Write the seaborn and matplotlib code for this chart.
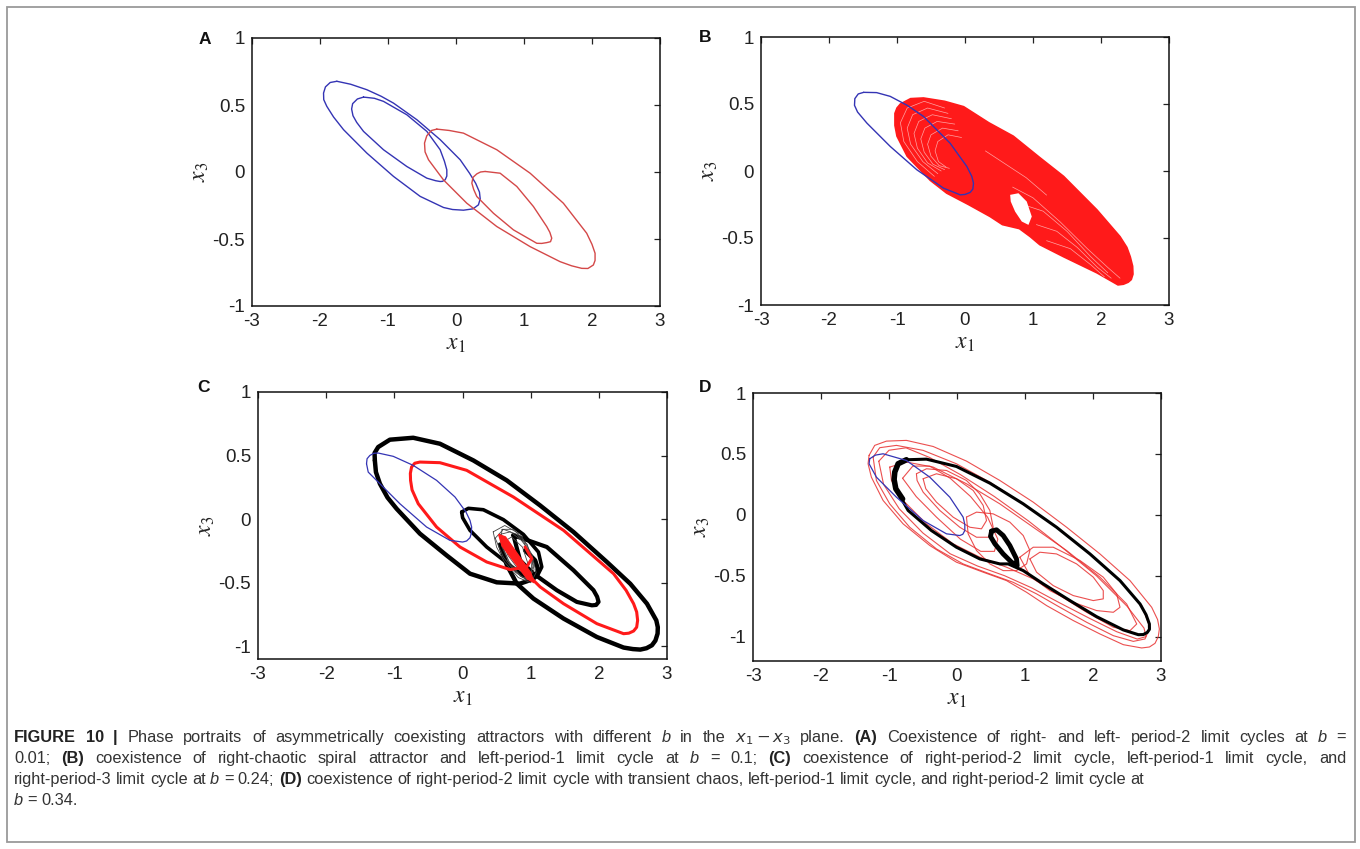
"""
Phase portraits in the x1-x3 plane, four panels plus caption.
"""

import numpy as np
import matplotlib
matplotlib.use('Agg')
import matplotlib.pyplot as plt
from matplotlib.patches import Rectangle
import seaborn as sns

W, H = 1360, 849

# ---------------- data (x1, x3) ----------------
# (A) b = 0.01
a_blue_outer_x = [-1.752, -1.55, -1.311, -1.10, -0.919, -0.575, -0.232, 0.062, 0.20, 0.29, 0.345,
                  0.356, 0.33, 0.25, 0.11, -0.05, -0.183, -0.527, -0.919, -1.311, -1.654, -1.80,
                  -1.90, -1.945, -1.948, -1.92, -1.85]
a_blue_outer_y = [0.677, 0.655, 0.614, 0.565, 0.514, 0.390, 0.241, 0.091, -0.01, -0.085, -0.15,
                  -0.20, -0.245, -0.275, -0.285, -0.28, -0.265, -0.182, -0.033, 0.141, 0.316, 0.41,
                  0.49, 0.54, 0.589, 0.635, 0.668]
a_blue_inner_x = [-1.360, -1.20, -1.066, -0.723, -0.429, -0.233, -0.17, -0.135, -0.135, -0.159,
                  -0.20, -0.233, -0.30, -0.429, -0.723, -1.066, -1.360, -1.46, -1.515, -1.535,
                  -1.52, -1.45]
a_blue_inner_y = [0.559, 0.550, 0.527, 0.427, 0.303, 0.166, 0.08, 0.016, -0.03, -0.058, -0.07,
                  -0.071, -0.065, -0.046, 0.041, 0.166, 0.303, 0.37, 0.42, 0.47, 0.51, 0.545]
a_red_outer_x = [-0.282, -0.10, 0.110, 0.600, 1.090, 1.579, 1.922, 2.00, 2.045, 2.045, 2.020, 1.94,
                 1.849, 1.70, 1.530, 1.090, 0.600, 0.159, -0.184, -0.404, -0.455, -0.463, -0.43,
                 -0.36]
a_red_outer_y = [0.320, 0.310, 0.290, 0.166, -0.009, -0.233, -0.457, -0.54, -0.606, -0.66, -0.694,
                 -0.72, -0.719, -0.70, -0.669, -0.557, -0.407, -0.233, -0.059, 0.091, 0.15, 0.216,
                 0.27, 0.31]
a_red_inner_x = [0.428, 0.649, 0.894, 1.139, 1.334, 1.38, 1.408, 1.39, 1.334, 1.26, 1.188, 0.845,
                 0.551, 0.306, 0.26, 0.233, 0.25, 0.306, 0.36]
a_red_inner_y = [0.004, -0.009, -0.108, -0.258, -0.407, -0.45, -0.494, -0.52, -0.527, -0.533,
                 -0.532, -0.432, -0.308, -0.183, -0.13, -0.083, -0.04, -0.014, 0.0]

# (B) b = 0.1
b_blue_x = [-1.49, -1.30, -1.10, -0.85, -0.61, -0.22, 0.027, 0.10, 0.125, 0.115, 0.076, 0.0,
            -0.071, -0.316, -0.708, -1.099, -1.442, -1.58, -1.625, -1.62, -1.57]
b_blue_y = [0.587, 0.585, 0.557, 0.49, 0.407, 0.208, 0.034, -0.04, -0.091, -0.135, -0.160, -0.175,
            -0.178, -0.128, 0.009, 0.183, 0.357, 0.44, 0.49, 0.54, 0.575]
b_chaos_x = [-0.95, -0.80, -0.61, -0.30, -0.02, 0.35, 0.71, 1.10, 1.45, 1.94, 2.28, 2.38, 2.43,
             2.465, 2.47, 2.445, 2.40, 2.33, 2.25, 1.94, 1.45, 1.10, 0.96, 0.80, 0.55, 0.37, 0.05,
             -0.27, -0.51, -0.85, -1.00, -1.03, -1.03, -1.00]
b_chaos_y = [0.50, 0.54, 0.545, 0.52, 0.48, 0.36, 0.26, 0.10, -0.04, -0.29, -0.49, -0.57, -0.64,
             -0.71, -0.77, -0.81, -0.83, -0.845, -0.85, -0.76, -0.64, -0.55, -0.49, -0.43, -0.40,
             -0.34, -0.25, -0.165, -0.07, 0.11, 0.26, 0.34, 0.43, 0.47]
b_hole_x = [0.664, 0.786, 0.908, 0.982, 0.933, 0.835, 0.737, 0.673]
b_hole_y = [-0.178, -0.166, -0.228, -0.340, -0.402, -0.377, -0.303, -0.228]
# light streaks inside the chaotic band
b_streaks = [
    ([-0.30, -0.60, -0.85, -0.95, -0.90, -0.70, -0.45], [0.47, 0.52, 0.47, 0.36, 0.22, 0.07, -0.04]),
    ([-0.25, -0.55, -0.77, -0.85, -0.80, -0.62, -0.40], [0.43, 0.47, 0.42, 0.32, 0.20, 0.07, -0.02]),
    ([-0.20, -0.48, -0.68, -0.75, -0.70, -0.55, -0.35], [0.39, 0.42, 0.37, 0.28, 0.17, 0.06, 0.00]),
    ([-0.15, -0.41, -0.59, -0.65, -0.60, -0.47, -0.30], [0.35, 0.37, 0.32, 0.24, 0.14, 0.05, 0.01]),
    ([-0.10, -0.33, -0.50, -0.55, -0.50, -0.38, -0.23], [0.30, 0.32, 0.27, 0.20, 0.11, 0.04, 0.02]),
    ([-0.05, -0.25, -0.40, -0.44, -0.39, -0.28], [0.25, 0.27, 0.22, 0.15, 0.07, 0.03]),
    ([0.70, 1.00, 1.40, 1.80, 2.10, 2.28], [-0.12, -0.20, -0.38, -0.58, -0.72, -0.80]),
    ([0.85, 1.15, 1.50, 1.85, 2.10], [-0.25, -0.30, -0.45, -0.64, -0.76]),
    ([1.05, 1.35, 1.65, 1.95, 2.15], [-0.40, -0.45, -0.57, -0.72, -0.80]),
    ([1.20, 1.55, 1.85, 2.05], [-0.52, -0.58, -0.70, -0.79]),
    ([0.30, 0.60, 0.90, 1.20], [0.15, 0.05, -0.05, -0.18]),
]

# (C) b = 0.24
c_blue_x = [-1.408, -1.40, -1.359, -1.30, -1.237, -1.016, -0.723, -0.380, -0.110, 0.051, 0.11,
            0.134, 0.13, 0.110, 0.06, 0.002, -0.184, -0.527, -0.918, -1.237, -1.383]
c_blue_y = [0.436, 0.475, 0.501, 0.518, 0.520, 0.494, 0.423, 0.305, 0.174, 0.056, -0.01, -0.062,
            -0.11, -0.146, -0.172, -0.180, -0.167, -0.062, 0.121, 0.292, 0.370]
c_black_outer_x = [-1.286, -1.29, -1.237, -1.065, -0.723, -0.331, 0.159, 0.649, 1.138, 1.628,
                   2.118, 2.461, 2.706, 2.843, 2.865, 2.862, 2.83, 2.779, 2.70, 2.608, 2.50, 2.363,
                   1.971, 1.482, 1.041, 0.796, 0.65, 0.55]
c_black_outer_y = [0.462, 0.52, 0.567, 0.625, 0.640, 0.593, 0.462, 0.305, 0.108, -0.101, -0.337,
                   -0.508, -0.665, -0.796, -0.85, -0.900, -0.955, -0.992, -1.015, -1.026, -1.022,
                   -1.010, -0.927, -0.782, -0.625, -0.507, -0.36, -0.20]
c_black_lower_x = [-1.286, -1.27, -1.212, -1.10, -0.967, -0.625, -0.233, 0.110, 0.502, 0.845,
                   1.040, 1.114, 1.065, 0.918]
c_black_lower_y = [0.462, 0.37, 0.279, 0.17, 0.082, -0.114, -0.285, -0.429, -0.497, -0.507,
                   -0.471, -0.403, -0.324, -0.245]
c_black_inner_x = [-0.012, 0.086, 0.306, 0.600, 0.893, 1.114, 1.163, 1.089, 0.918, 0.698, 0.355,
                   0.110, 0.002]
c_black_inner_y = [0.056, 0.085, 0.074, -0.004, -0.120, -0.259, -0.376, -0.455, -0.455, -0.363,
                   -0.219, -0.088, 0.011]
c_black_lobe_x = [0.747, 1.237, 1.628, 1.922, 1.975, 1.996, 1.96, 1.898, 1.677, 1.383, 1.041,
                  0.845]
c_black_lobe_y = [-0.127, -0.219, -0.402, -0.559, -0.61, -0.651, -0.675, -0.678, -0.651, -0.559,
                  -0.428, -0.324]
c_thin = [
    ([0.55, 0.70, 0.90, 1.02, 1.00, 0.88, 0.70, 0.58], [-0.12, -0.10, -0.18, -0.32, -0.45, -0.46, -0.36, -0.22]),
    ([0.48, 0.60, 0.80, 0.98, 1.05, 0.95, 0.78, 0.60], [-0.15, -0.08, -0.12, -0.25, -0.40, -0.48, -0.42, -0.30]),
    ([0.60, 0.72, 0.88, 0.96, 0.92, 0.80, 0.66], [-0.18, -0.14, -0.22, -0.35, -0.42, -0.38, -0.28]),
    ([0.45, 0.62, 0.85, 1.02, 1.08, 1.00, 0.82, 0.62, 0.50], [-0.10, -0.05, -0.12, -0.28, -0.42, -0.50, -0.46, -0.34, -0.22]),
    ([0.58, 0.75, 0.95, 1.04, 0.98, 0.85, 0.68, 0.56], [-0.08, -0.08, -0.20, -0.36, -0.47, -0.45, -0.33, -0.18]),
]
c_red_x = [0.918, 1.016, 0.942, 0.698, 0.355, -0.037, -0.380, -0.649, -0.74, -0.762, -0.765,
           -0.747, -0.70, -0.625, -0.331, 0.061, 0.747, 1.482, 2.216, 2.40, 2.510, 2.555, 2.569,
           2.555, 2.510, 2.44, 2.363, 1.971, 1.482, 1.139, 0.943, 0.80, 0.62]
c_red_y = [-0.219, -0.311, -0.376, -0.397, -0.337, -0.219, -0.062, 0.121, 0.23, 0.305, 0.36, 0.410,
           0.44, 0.449, 0.444, 0.384, 0.174, -0.088, -0.429, -0.56, -0.665, -0.73, -0.796, -0.85,
           -0.880, -0.897, -0.901, -0.822, -0.665, -0.533, -0.429, -0.33, -0.16]
c_wedge_x = [0.53, 0.63, 1.00, 1.05, 0.95, 0.58]
c_wedge_y = [-0.12, -0.14, -0.42, -0.50, -0.47, -0.21]

# (D) b = 0.34
d_blue_x = [-1.284, -1.20, -1.087, -0.744, -0.400, -0.106, 0.090, 0.115, 0.115, 0.085, 0.041,
            -0.155, -0.498, -0.891, -1.185, -1.293]
d_blue_y = [0.460, 0.49, 0.501, 0.446, 0.309, 0.145, -0.019, -0.08, -0.129, -0.16, -0.170, -0.156,
            -0.047, 0.145, 0.309, 0.419]
d_red_loops = [
    ([-1.293, -1.210, -1.038, -0.744, -0.351, 0.139, 0.630, 1.121, 1.612, 2.102, 2.544, 2.863,
      2.95, 2.976, 2.96, 2.912, 2.83, 2.716, 2.446, 2.102, 1.710, 1.317, 1.023, 0.728, 0.385,
      -0.008, -0.400, -0.793, -1.087, -1.259, -1.308],
     [0.488, 0.570, 0.605, 0.611, 0.561, 0.441, 0.282, 0.104, -0.102, -0.321, -0.540, -0.759,
      -0.86, -0.937, -1.00, -1.055, -1.085, -1.093, -1.066, -0.978, -0.868, -0.745, -0.636,
      -0.540, -0.471, -0.389, -0.252, -0.074, 0.118, 0.309, 0.419]),
    ([-1.234, -1.136, -0.891, -0.498, -0.008, 0.483, 0.974, 1.464, 1.955, 2.397, 2.716, 2.838,
      2.765, 2.593, 2.299, 1.906, 1.513, 1.170, 0.826, 0.483, 0.090, -0.302, -0.695, -0.989,
      -1.185],
     [0.474, 0.551, 0.570, 0.529, 0.419, 0.268, 0.090, -0.102, -0.321, -0.540, -0.745, -0.923,
      -1.019, -1.039, -0.992, -0.882, -0.759, -0.649, -0.554, -0.485, -0.403, -0.280, -0.102,
      0.090, 0.282]),
    ([-1.15, -1.00, -0.75, -0.40, 0.05, 0.55, 1.05, 1.55, 2.05, 2.50, 2.75, 2.78, 2.65, 2.35, 1.95,
      1.50, 1.10, 0.70, 0.30, -0.10, -0.50, -0.85, -1.08],
     [0.44, 0.53, 0.55, 0.47, 0.33, 0.15, -0.05, -0.27, -0.50, -0.75, -0.93, -1.00, -1.02, -0.96,
      -0.85, -0.72, -0.60, -0.50, -0.42, -0.32, -0.15, 0.05, 0.25]),
    ([-0.989, -0.744, -0.351, 0.139, 0.630, 1.121, 1.612, 2.102, 2.495, 2.643, 2.544, 2.299,
      1.906, 1.513, 1.121, 0.728, 0.336, -0.057, -0.449, -0.793, -0.964],
     [0.392, 0.433, 0.392, 0.255, 0.090, -0.102, -0.293, -0.512, -0.732, -0.896, -0.951, -0.923,
      -0.800, -0.663, -0.526, -0.430, -0.348, -0.238, -0.074, 0.118, 0.282]),
    ([-0.597, -0.449, -0.155, 0.139, 0.336, 0.483, 0.532, 0.459, 0.287, 0.041, -0.253, -0.498,
      -0.587],
     [0.337, 0.378, 0.364, 0.282, 0.172, 0.036, -0.102, -0.184, -0.184, -0.102, 0.036, 0.186,
      0.282]),
    ([-0.80, -0.65, -0.40, -0.10, 0.20, 0.45, 0.60, 0.55, 0.35, 0.05, -0.30, -0.60],
     [0.30, 0.40, 0.40, 0.30, 0.15, -0.02, -0.20, -0.30, -0.30, -0.20, -0.02, 0.15]),
    ([-0.498, -0.302, -0.008, 0.238, 0.385, 0.434, 0.360, 0.189, -0.057, -0.302, -0.459],
     [0.296, 0.337, 0.296, 0.200, 0.077, -0.047, -0.115, -0.102, -0.019, 0.104, 0.214]),
    ([0.139, 0.287, 0.532, 0.777, 0.974, 1.072, 1.023, 0.875, 0.679, 0.483, 0.287, 0.164],
     [-0.019, 0.022, 0.008, -0.060, -0.170, -0.293, -0.403, -0.458, -0.458, -0.403, -0.293,
      -0.156]),
    ([1.072, 1.219, 1.464, 1.759, 2.004, 2.151, 2.151, 2.004, 1.710, 1.415, 1.170],
     [-0.362, -0.307, -0.321, -0.403, -0.512, -0.622, -0.690, -0.704, -0.663, -0.581, -0.471]),
    ([0.924, 1.121, 1.415, 1.808, 2.151, 2.348, 2.397, 2.299, 2.053, 1.710, 1.366, 1.072],
     [-0.348, -0.266, -0.266, -0.375, -0.512, -0.649, -0.759, -0.800, -0.786, -0.718, -0.622,
      -0.499]),
]
d_black_x = [-0.915, -0.866, -0.744, -0.449, -0.008, 0.483, 0.974, 1.464, 1.955, 2.397, 2.692,
             2.78, 2.829, 2.83, 2.799, 2.74, 2.667, 2.446, 2.053, 1.661, 1.268, 0.974, 0.753,
             0.630, 0.336, -0.008, -0.376, -0.719, -0.900, -0.925]
d_black_y = [0.351, 0.419, 0.452, 0.457, 0.397, 0.260, 0.090, -0.102, -0.321, -0.540, -0.732,
             -0.82, -0.896, -0.94, -0.965, -0.983, -0.984, -0.945, -0.836, -0.704, -0.567, -0.458,
             -0.403, -0.403, -0.362, -0.266, -0.129, 0.036, 0.214, 0.29]
# thicker stretch of the same cycle on its left side
d_black_left_x = [-0.80, -0.900, -0.925, -0.915, -0.866, -0.744]
d_black_left_y = [0.13, 0.214, 0.29, 0.351, 0.419, 0.452]
d_drop_x = [0.508, 0.581, 0.679, 0.777, 0.875, 0.885, 0.802, 0.679, 0.557, 0.493]
d_drop_y = [-0.134, -0.123, -0.170, -0.252, -0.362, -0.417, -0.389, -0.321, -0.238, -0.178]

x_ticks = [-3, -2, -1, 0, 1, 2, 3]
y_ticks = [-1, -0.5, 0, 0.5, 1]
y_tick_labels = ['-1', '-0.5', '0', '0.5', '1']

caption_lines = [
    ([('FIGURE', 'b'), ('10', 'b'), ('|', 'b'), ('Phase', 'n'), ('portraits', 'n'), ('of', 'n'),
      ('asymmetrically', 'n'), ('coexisting', 'n'), ('attractors', 'n'), ('with', 'n'),
      ('different', 'n'), ('b', 'i'), ('in', 'n'), ('the', 'n'), (r'$x_1 - x_3$', 'n'),
      ('plane.', 'n'), ('(A)', 'b'), ('Coexistence', 'n'), ('of', 'n'), ('right-', 'n'),
      ('and', 'n'), ('left-', 'n'), ('period-2', 'n'), ('limit', 'n'), ('cycles', 'n'),
      ('at', 'n'), ('b', 'i'), ('=', 'n')], True),
    ([('0.01;', 'n'), ('(B)', 'b'), ('coexistence', 'n'), ('of', 'n'), ('right-chaotic', 'n'),
      ('spiral', 'n'), ('attractor', 'n'), ('and', 'n'), ('left-period-1', 'n'), ('limit', 'n'),
      ('cycle', 'n'), ('at', 'n'), ('b', 'i'), ('=', 'n'), ('0.1;', 'n'), ('(C)', 'b'),
      ('coexistence', 'n'), ('of', 'n'), ('right-period-2', 'n'), ('limit', 'n'), ('cycle,', 'n'),
      ('left-period-1', 'n'), ('limit', 'n'), ('cycle,', 'n'), ('and', 'n')], True),
    ([('right-period-3', 'n'), ('limit', 'n'), ('cycle', 'n'), ('at', 'n'), ('b', 'i'), ('=', 'n'),
      ('0.24;', 'n'), ('(D)', 'b'), ('coexistence', 'n'), ('of', 'n'), ('right-period-2', 'n'),
      ('limit', 'n'), ('cycle', 'n'), ('with', 'n'), ('transient', 'n'), ('chaos,', 'n'),
      ('left-period-1', 'n'), ('limit', 'n'), ('cycle,', 'n'), ('and', 'n'), ('right-period-2', 'n'),
      ('limit', 'n'), ('cycle', 'n'), ('at', 'n')], False),
    ([('b', 'i'), ('=', 'n'), ('0.34.', 'n')], False),
]

# ---------------- styling ----------------
sns.set_theme(style='white')
CAP_FONT = ['Liberation Sans Narrow', 'Liberation Sans']
plt.rcParams['font.family'] = ['Liberation Sans', 'DejaVu Sans']
plt.rcParams['axes.unicode_minus'] = False
plt.rcParams['mathtext.fontset'] = 'custom'
plt.rcParams['mathtext.rm'] = 'Liberation Sans Narrow'
plt.rcParams['mathtext.it'] = 'Liberation Sans Narrow:italic'

BLUE = '#3434b4'
RED_A = '#d44848'
RED = '#ff1a1a'


def px_rect(left, top, right, bottom):
    return [left / W, 1 - bottom / H, (right - left) / W, (bottom - top) / H]


def curve(ax, x, y, color, lw, closed=True, alpha=1.0, z=2):
    x = np.asarray(x, float)
    y = np.asarray(y, float)
    if closed:
        x = np.r_[x, x[:1]]
        y = np.r_[y, y[:1]]
    sns.lineplot(x=x, y=y, sort=False, estimator=None, color=color, lw=lw,
                 alpha=alpha, ax=ax, zorder=z)


def style_axes(ax, ylim):
    ax.set_xlim(-3, 3)
    ax.set_ylim(*ylim)
    ax.set_xticks(x_ticks)
    ax.set_xticklabels([str(t) for t in x_ticks])
    ax.set_yticks(y_ticks)
    ax.set_yticklabels(y_tick_labels)
    ax.tick_params(direction='in', top=True, right=True, length=4, width=0.9,
                   labelsize=13.5, labelcolor='#222222', colors='#222222', pad=5)
    for s in ax.spines.values():
        s.set_visible(True)
        s.set_color('#111111')
        s.set_linewidth(1.1)
    ax.set_xlabel(r'$x_1$', fontsize=17, math_fontfamily='stix', color='#222222')
    ax.set_ylabel(r'$x_3$', fontsize=17, math_fontfamily='stix', color='#222222')
    ax.xaxis.set_label_coords(0.5, -0.10)
    ax.yaxis.set_label_coords(-0.10, 0.5)
    ax.set_facecolor('white')


fig = plt.figure(figsize=(W / 100, H / 100), dpi=100)
fig.patch.set_facecolor('white')
fig.patches.append(Rectangle((7 / W, 1 - 842 / H), 1348 / W, 835 / H, transform=fig.transFigure,
                             fill=False, edgecolor='#9a9a9a', lw=1.3))

ax_a = fig.add_axes(px_rect(252, 38, 660, 306))
ax_b = fig.add_axes(px_rect(761, 37, 1169, 305))
ax_c = fig.add_axes(px_rect(258, 392, 667, 659))
ax_d = fig.add_axes(px_rect(753, 393, 1161, 661))

# A
curve(ax_a, a_blue_outer_x, a_blue_outer_y, BLUE, 1.0)
curve(ax_a, a_blue_inner_x, a_blue_inner_y, BLUE, 1.0)
curve(ax_a, a_red_outer_x, a_red_outer_y, RED_A, 1.0)
curve(ax_a, a_red_inner_x, a_red_inner_y, RED_A, 1.0)
style_axes(ax_a, (-1, 1))

# B
ax_b.fill(b_chaos_x, b_chaos_y, color=RED, lw=1.2, zorder=2)
for sx, sy in b_streaks:
    curve(ax_b, sx, sy, 'white', 0.5, closed=False, alpha=0.6, z=3)
ax_b.fill(b_hole_x, b_hole_y, color='white', lw=0, zorder=3)
curve(ax_b, b_blue_x, b_blue_y, BLUE, 1.0, z=4)
style_axes(ax_b, (-1, 1))

# C
curve(ax_c, c_black_outer_x, c_black_outer_y, 'black', 3.2, closed=False)
curve(ax_c, c_black_lower_x, c_black_lower_y, 'black', 3.2, closed=False)
curve(ax_c, c_black_inner_x, c_black_inner_y, 'black', 2.6)
curve(ax_c, c_black_lobe_x, c_black_lobe_y, 'black', 3.0)
for tx, ty in c_thin:
    curve(ax_c, tx, ty, '#444444', 0.6)
curve(ax_c, c_red_x, c_red_y, RED, 2.2, closed=False, z=3)
ax_c.fill(c_wedge_x, c_wedge_y, color=RED, lw=1, zorder=3)
curve(ax_c, c_blue_x, c_blue_y, BLUE, 0.9, z=4)
style_axes(ax_c, (-1.1, 1))

# D
for rx, ry in d_red_loops:
    curve(ax_d, rx, ry, '#e83030', 0.8, alpha=0.85)
curve(ax_d, d_black_x, d_black_y, 'black', 2.2, z=3)
curve(ax_d, d_black_left_x, d_black_left_y, 'black', 4.0, closed=False, z=3)
curve(ax_d, d_drop_x, d_drop_y, 'black', 3.5, z=3)
curve(ax_d, d_blue_x, d_blue_y, BLUE, 0.9, z=4)
style_axes(ax_d, (-1.2, 1))

for label, (px, py) in zip('ABCD', [(205, 40), (705, 38), (203, 388), (705, 388)]):
    fig.text(px / W, 1 - py / H, label, fontsize=12.5, fontweight='bold', ha='center',
             va='center', color='#111111')

# ---------------- caption, laid out word by word ----------------
CAP_FS = 11.8
CAP_X0, CAP_X1 = 14, 1346
renderer = fig.canvas.get_renderer()


def word_text(word, st, y_px):
    kw = dict(fontsize=CAP_FS, family=CAP_FONT, color='#333333', va='baseline', ha='left',
              math_fontfamily='custom')
    if st == 'b':
        kw['fontweight'] = 'bold'
        kw['color'] = '#222222'
    if st == 'i':
        kw['fontstyle'] = 'italic'
    return fig.text(0, 1 - y_px / H, word, **kw)


probe1 = word_text('a a', 'n', 900)
probe2 = word_text('aa', 'n', 900)
SPACE = probe1.get_window_extent(renderer).width - probe2.get_window_extent(renderer).width
probe1.remove()
probe2.remove()

for i, (tokens, justify) in enumerate(caption_lines):
    y_px = 742 + 21 * i
    objs = [word_text(w, st, y_px) for w, st in tokens]
    widths = [t.get_window_extent(renderer).width for t in objs]
    gap = SPACE
    if justify:
        gap = (CAP_X1 - CAP_X0 - sum(widths)) / (len(objs) - 1)
    x = CAP_X0
    for t, w in zip(objs, widths):
        t.set_x(x / W)
        x += w + gap

fig.savefig('out.png', dpi=100, facecolor='white')
plt.close(fig)
